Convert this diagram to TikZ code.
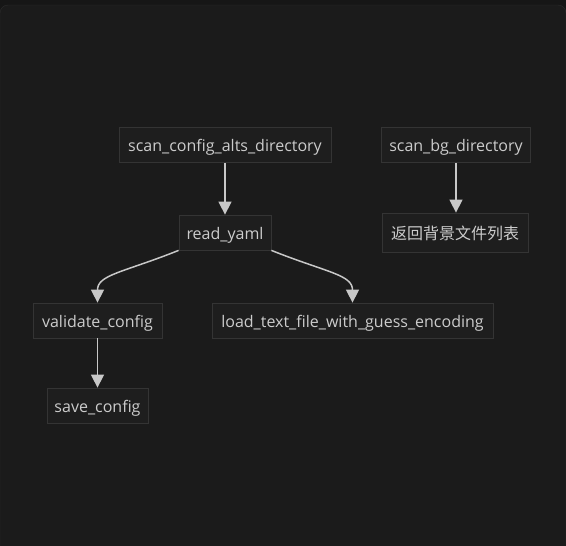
\documentclass[tikz,border=0pt]{standalone}
\usepackage{fontspec}
\setmainfont{Open Sans}
\newfontfamily\cjk{Noto Sans CJK SC}
\usetikzlibrary{arrows.meta}
\definecolor{outerbg}{HTML}{161616}
\definecolor{panelbg}{HTML}{1B1B1B}
\definecolor{panelline}{HTML}{2C2C2C}
\definecolor{nodefill}{HTML}{1E1E1E}
\definecolor{nodeline}{HTML}{343434}
\definecolor{txt}{HTML}{CCCCCC}
\definecolor{edge}{HTML}{C8C8C8}
\tikzset{
  box/.style={draw=nodeline, fill=nodefill, text=txt, line width=0.8pt,
    minimum height=35pt, inner sep=0pt, text height=13pt, text depth=0pt,
    font=\fontsize{16}{18}\selectfont},
  flow/.style={draw=edge, line width=1.5pt, -{Triangle[width=13pt,length=13pt]}}
}
\begin{document}
\begin{tikzpicture}[x=1pt,y=-1pt]
\useasboundingbox (0,0) rectangle (566,546);
\fill[outerbg] (0,0) rectangle (566,546);
\draw[panelline, fill=panelbg, rounded corners=8pt] (0,5) rectangle (566,560);
\node[box, minimum width=212pt] (sca) at (225,145) {scan\_config\_alts\_directory};
\node[box, minimum width=92pt] (ry) at (225,232.5) {read\_yaml};
\node[box, minimum width=149pt] (sbg) at (456,145) {scan\_bg\_directory};
\node[box, minimum width=146pt, minimum height=39pt] (ret) at (455,232.5) {\cjk 返回背景文件列表};
\node[box, minimum width=129pt] (vc) at (97.5,320.5) {validate\_config};
\node[box, minimum width=281pt] (lt) at (352.5,320.5) {load\_text\_file\_with\_guess\_encoding};
\node[box, minimum width=101pt] (sc) at (97.5,405.5) {save\_config};
\draw[flow] (sca.south) -- (ry.north);
\draw[flow] (sbg.south) -- (sbg.south |- ret.north);
\draw[flow] (vc.south) -- (sc.north);
\draw[flow] (ry.south west) .. controls +(-55,22) and +(0,-28) .. (vc.north);
\draw[flow] (ry.south east) .. controls +(55,22) and +(0,-28) .. (lt.north);
\end{tikzpicture}
\end{document}
